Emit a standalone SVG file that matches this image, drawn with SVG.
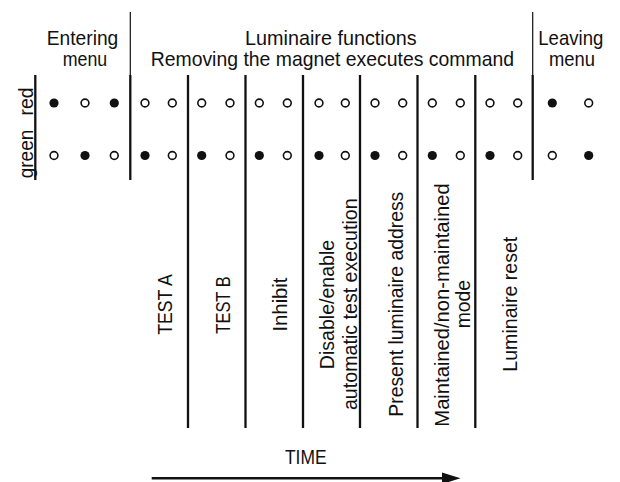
<svg xmlns="http://www.w3.org/2000/svg" width="620" height="482" viewBox="0 0 620 482">
  <style>
    text { font-family: "Liberation Sans", Arial, sans-serif; font-size: 21px; fill: #111; }
    .mid { text-anchor: middle; }
    .thick { stroke: #111; stroke-width: 2.3; fill: none; }
    .thin { stroke: #111; stroke-width: 1.2; fill: none; }
    .on { fill: #111; }
    .off { fill: #fff; stroke: #111; stroke-width: 1.6; }
  </style>
  <defs>
    <circle id="on" r="4.6" class="on"/>
    <circle id="off" r="3.9" class="off"/>
  </defs>
  <rect width="620" height="482" fill="#fff"/>

  <g id="row-labels">
    <text class="mid" transform="translate(33,101.5) rotate(-90)" textLength="28" lengthAdjust="spacingAndGlyphs">red</text>
    <text class="mid" transform="translate(33,154) rotate(-90)" textLength="48.5" lengthAdjust="spacingAndGlyphs">green</text>
    <line class="thick" x1="35.3" y1="75" x2="35.3" y2="180"/>
  </g>

  <g id="entering-menu">
    <text x="46.7" y="44.5" textLength="71.6" lengthAdjust="spacingAndGlyphs">Entering</text>
    <text x="62.7" y="66" textLength="44.5" lengthAdjust="spacingAndGlyphs">menu</text>
    <use href="#on" x="54" y="103"/>
    <use href="#off" x="85" y="103"/>
    <use href="#on" x="114.3" y="103"/>
    <use href="#off" x="54" y="155.5"/>
    <use href="#on" x="85" y="155.5"/>
    <use href="#off" x="114.3" y="155.5"/>
  </g>

  <g id="luminaire-functions">
    <text x="245" y="44.5" textLength="171.7" lengthAdjust="spacingAndGlyphs">Luminaire functions</text>
    <text x="150.7" y="66" textLength="363.3" lengthAdjust="spacingAndGlyphs">Removing the magnet executes command</text>
    <line class="thin" x1="130.3" y1="12" x2="130.3" y2="75"/>
    <line class="thick" x1="130.3" y1="75" x2="130.3" y2="180"/>
  </g>

  <g id="test-a">
    <use href="#off" x="145" y="103"/>
    <use href="#off" x="172.3" y="103"/>
    <use href="#on" x="145" y="155.5"/>
    <use href="#off" x="172.3" y="155.5"/>
    <text class="mid" transform="translate(172,304.5) rotate(-90)" textLength="60.7" lengthAdjust="spacingAndGlyphs">TEST A</text>
    <line class="thick" x1="188" y1="75" x2="188" y2="428"/>
  </g>

  <g id="test-b">
    <use href="#off" x="201.7" y="103"/>
    <use href="#off" x="230" y="103"/>
    <use href="#on" x="201.7" y="155.5"/>
    <use href="#off" x="230" y="155.5"/>
    <text class="mid" transform="translate(230,305) rotate(-90)" textLength="57.3" lengthAdjust="spacingAndGlyphs">TEST B</text>
    <line class="thick" x1="245.5" y1="75" x2="245.5" y2="428"/>
  </g>

  <g id="inhibit">
    <use href="#off" x="259.3" y="103"/>
    <use href="#off" x="287.3" y="103"/>
    <use href="#on" x="259.3" y="155.5"/>
    <use href="#off" x="287.3" y="155.5"/>
    <text class="mid" transform="translate(287,304.5) rotate(-90)" textLength="54" lengthAdjust="spacingAndGlyphs">Inhibit</text>
    <line class="thick" x1="303" y1="75" x2="303" y2="428"/>
  </g>

  <g id="disable-enable">
    <use href="#off" x="319" y="103"/>
    <use href="#off" x="345.3" y="103"/>
    <use href="#on" x="319" y="155.5"/>
    <use href="#off" x="345.3" y="155.5"/>
    <text class="mid" transform="translate(334,304.5) rotate(-90)" textLength="129.3" lengthAdjust="spacingAndGlyphs">Disable/enable</text>
    <text class="mid" transform="translate(356.5,304.2) rotate(-90)" textLength="211.7" lengthAdjust="spacingAndGlyphs">automatic test execution</text>
    <line class="thick" x1="360" y1="75" x2="360" y2="428"/>
  </g>

  <g id="present-address">
    <use href="#off" x="375" y="103"/>
    <use href="#off" x="402.7" y="103"/>
    <use href="#on" x="375" y="155.5"/>
    <use href="#off" x="402.7" y="155.5"/>
    <text class="mid" transform="translate(403,304.2) rotate(-90)" textLength="225" lengthAdjust="spacingAndGlyphs">Present luminaire address</text>
    <line class="thick" x1="417.5" y1="75" x2="417.5" y2="428"/>
  </g>

  <g id="maintained-mode">
    <use href="#off" x="432.3" y="103"/>
    <use href="#off" x="460.3" y="103"/>
    <use href="#on" x="432.3" y="155.5"/>
    <use href="#off" x="460.3" y="155.5"/>
    <text class="mid" transform="translate(448.5,305) rotate(-90)" textLength="243.3" lengthAdjust="spacingAndGlyphs">Maintained/non-maintained</text>
    <text class="mid" transform="translate(470,304.2) rotate(-90)" textLength="48.3" lengthAdjust="spacingAndGlyphs">mode</text>
    <line class="thick" x1="475.3" y1="75" x2="475.3" y2="428"/>
  </g>

  <g id="luminaire-reset">
    <use href="#off" x="490" y="103"/>
    <use href="#off" x="517.7" y="103"/>
    <use href="#on" x="490" y="155.5"/>
    <use href="#off" x="517.7" y="155.5"/>
    <text class="mid" transform="translate(517,304.2) rotate(-90)" textLength="135" lengthAdjust="spacingAndGlyphs">Luminaire reset</text>
  </g>

  <g id="leaving-menu">
    <line class="thin" x1="532.7" y1="12" x2="532.7" y2="75"/>
    <line class="thick" x1="532.7" y1="75" x2="532.7" y2="180"/>
    <text class="mid" x="570.8" y="44.5" textLength="65" lengthAdjust="spacingAndGlyphs">Leaving</text>
    <text class="mid" x="572" y="66" textLength="46" lengthAdjust="spacingAndGlyphs">menu</text>
    <use href="#on" x="552.3" y="103"/>
    <use href="#off" x="588.7" y="103"/>
    <use href="#off" x="552.3" y="155.5"/>
    <use href="#on" x="588.7" y="155.5"/>
  </g>

  <g id="time">
    <text class="mid" x="305.8" y="463.5" textLength="41.7" lengthAdjust="spacingAndGlyphs">TIME</text>
  </g>

  <g id="connectors">
    <line x1="151.7" y1="478.3" x2="444" y2="478.3" stroke="#111" stroke-width="2.5"/>
    <polygon points="442,472.6 460.5,478.3 442,484" fill="#111"/>
  </g>
</svg>
